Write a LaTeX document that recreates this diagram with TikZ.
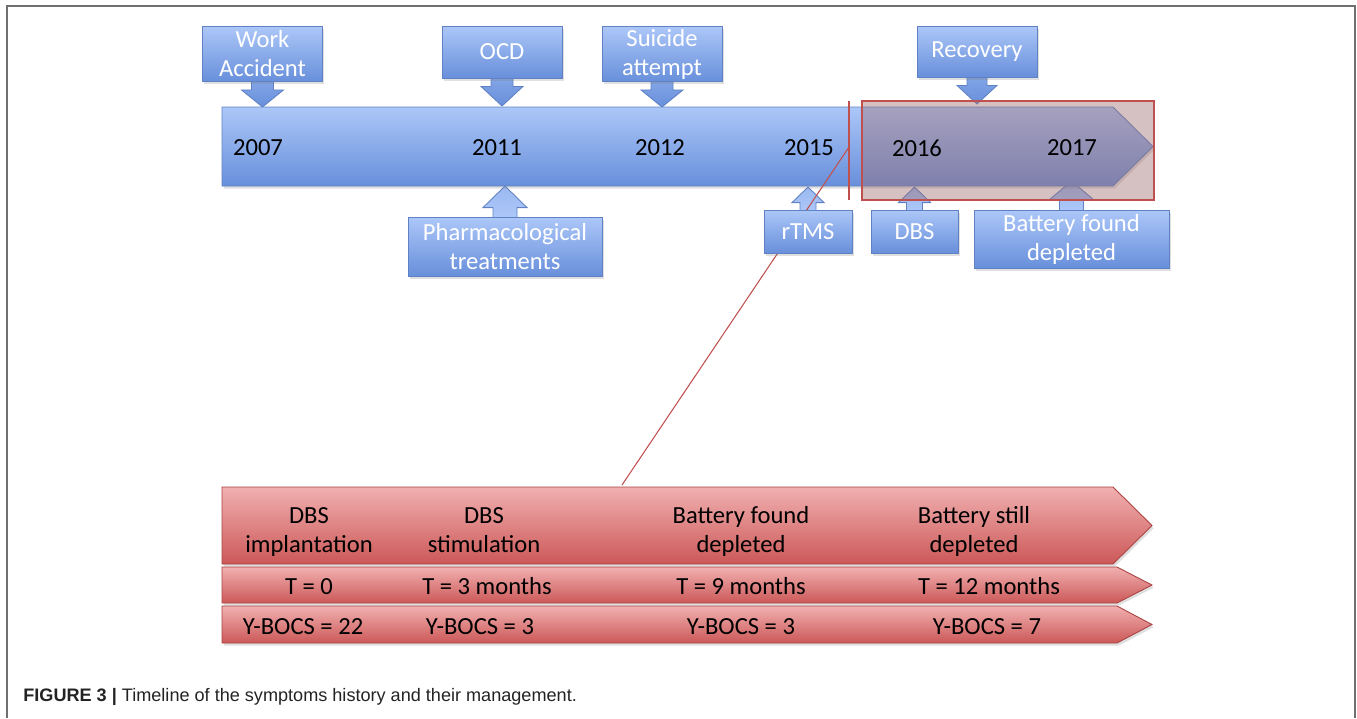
\documentclass[tikz,border=0pt]{standalone}
\usepackage{fontspec}
\setmainfont{Carlito}
\newfontfamily\capfont{Liberation Sans}
\usetikzlibrary{calc,shadows}
\pgfdeclarelayer{background}
\pgfsetlayers{background,main}

\definecolor{bluetop}{RGB}{172,199,248}
\definecolor{bluebot}{RGB}{104,143,219}
\definecolor{blueline}{RGB}{96,130,196}
\definecolor{redtop}{RGB}{241,176,176}
\definecolor{redbot}{RGB}{204,88,88}
\definecolor{redline}{RGB}{170,66,66}
\definecolor{zoomred}{RGB}{192,80,77}
\definecolor{zoomfill}{RGB}{158,108,110}
\definecolor{framegray}{RGB}{112,112,112}
\definecolor{captext}{RGB}{35,35,35}

\tikzset{
  bluefill/.style={top color=bluetop, bottom color=bluebot, draw=blueline, line width=0.5pt},
  redfill/.style={top color=redtop, bottom color=redbot, draw=redline, line width=0.5pt},
  softshadow/.style={drop shadow={opacity=0.25, shadow xshift=1pt, shadow yshift=-1.5pt}},
  callbox/.style={bluefill, softshadow, text=white, align=center, inner sep=0pt,
    font=\fontsize{14}{16.5}\selectfont},
  downarrow/.style={top color=bluetop!40!bluebot, bottom color=bluebot, draw=blueline, line width=0.5pt},
  uparrow/.style={top color=bluetop!75!bluebot, bottom color=bluetop, draw=blueline, line width=0.5pt},
  yearlabel/.style={font=\fontsize{14}{16.5}\selectfont},
  rowtext/.style={align=center, font=\fontsize{14}{16.5}\selectfont},
}

\begin{document}
\begin{tikzpicture}[x=0.02cm, y=-0.02cm]
  \useasboundingbox (0,0) rectangle (1357,718);

  % frame
  \draw[framegray, line width=1.1pt] (7,718) -- (7,6) -- (1355,6) -- (1355,718);

  % timeline
  \coordinate (tltop) at (222,107);
  \coordinate (tlbot) at (222,186);
  \path[bluefill, softshadow] (tltop) -- (1113,107) -- (1153,146.5) -- (1113,186) -- (tlbot) -- cycle;

  % rows of the DBS follow-up
  \foreach \top/\bot/\body in {487/564/1113, 567/603/1117, 606/643/1117}
    \path[redfill, softshadow] (222,\top) -- (\body,\top) -- (1152,{(\top+\bot)/2})
      -- (\body,\bot) -- (222,\bot) -- cycle;

  \node[rowtext] (ev1) at (309,532) {\strut DBS\\\strut implantation};
  \node[rowtext] (ev2) at (484,532) {\strut DBS\\\strut stimulation};
  \node[rowtext] (ev3) at (741,532) {\strut Battery found\\\strut depleted};
  \node[rowtext] (ev4) at (974,532) {\strut Battery still\\\strut depleted};

  \node[rowtext] (t1) at (309,589) {\strut T = 0};
  \node[rowtext] (t2) at (487,589) {\strut T = 3 months};
  \node[rowtext] (t3) at (741,589) {\strut T = 9 months};
  \node[rowtext] (t4) at (989,589) {\strut T = 12 months};

  \node[rowtext] (s1) at (303,629) {\strut Y-BOCS = 22};
  \node[rowtext] (s2) at (480,629) {\strut Y-BOCS = 3};
  \node[rowtext] (s3) at (741,629) {\strut Y-BOCS = 3};
  \node[rowtext] (s4) at (987,629) {\strut Y-BOCS = 7};

  % zoom lines
  \coordinate (zoomsrc) at (849,147);
  \coordinate (zoomdst) at (622,485);
  \draw[zoomred, line width=0.6pt] (849,101) -- (849,200);
  \draw[zoomred, line width=0.6pt] (zoomsrc) -- (zoomdst);

  % events above
  \node[callbox, minimum width=2.4cm, minimum height=1.1cm] (work) at (262.5,54) {Work\\Accident};
  \node[callbox, minimum width=2.4cm, minimum height=1.04cm] (ocd) at (502,52) {OCD};
  \node[callbox, minimum width=2.4cm, minimum height=1.1cm] (suicide) at (662,54) {Suicide\\attempt};
  \node[callbox, minimum width=2.4cm, minimum height=1.02cm] (recovery) at (977,51.5) {Recovery};

  % treatments below
  \node[callbox, minimum width=3.88cm, minimum height=1.18cm] (pharma) at (505,246.5) {Pharmacological\\treatments};
  \node[callbox, minimum width=1.76cm, minimum height=0.86cm] (rtms) at (808,231.5) {rTMS};
  \node[callbox, minimum width=1.74cm, minimum height=0.86cm] (dbs) at (914.5,231.5) {DBS};
  \node[callbox, minimum width=3.9cm, minimum height=1.16cm] (battery) at (1071.5,239) {Battery found\\depleted};

  \begin{pgfonlayer}{background}
    \foreach \bx/\s/\h/\l/\ty in {work/11/21/8/107, ocd/11/21/8/106, suicide/11/21/8/107, recovery/10/20/8/104}
      \path[downarrow] ($(\bx.south)+(-\s,-1)$) -- ($(\bx.south)+(-\s,\l)$) -- ($(\bx.south)+(-\h,\l)$)
        -- (\bx.south |- 0,\ty) -- ($(\bx.south)+(\h,\l)$) -- ($(\bx.south)+(\s,\l)$)
        -- ($(\bx.south)+(\s,-1)$) -- cycle;
    \foreach \bx/\s/\h/\l/\ty in {pharma/12/22/9/186, rtms/8/16/7/187, dbs/8/16/7/187, battery/12/22/10/181}
      \path[uparrow] ($(\bx.north)+(-\s,1)$) -- ($(\bx.north)+(-\s,-\l)$) -- ($(\bx.north)+(-\h,-\l)$)
        -- (\bx.north |- 0,\ty) -- ($(\bx.north)+(\h,-\l)$) -- ($(\bx.north)+(\s,-\l)$)
        -- ($(\bx.north)+(\s,1)$) -- cycle;
  \end{pgfonlayer}

  % highlighted period
  \draw[zoomred, line width=0.6pt, fill=zoomfill, fill opacity=0.42] (862,101) rectangle (1154,200);

  \foreach \yr/\x in {2007/258, 2011/497, 2012/660, 2015/809, 2016/917, 2017/1072}
    \node[yearlabel] (y\yr) at (\x,148) {\yr};

  % caption
  \node[anchor=west, inner sep=0pt, text=captext, font=\capfont\fontsize{10.3}{12}\selectfont] (caption) at (23,697)
    {\textbf{FIGURE 3 |} Timeline of the symptoms history and their management.};
\end{tikzpicture}
\end{document}
